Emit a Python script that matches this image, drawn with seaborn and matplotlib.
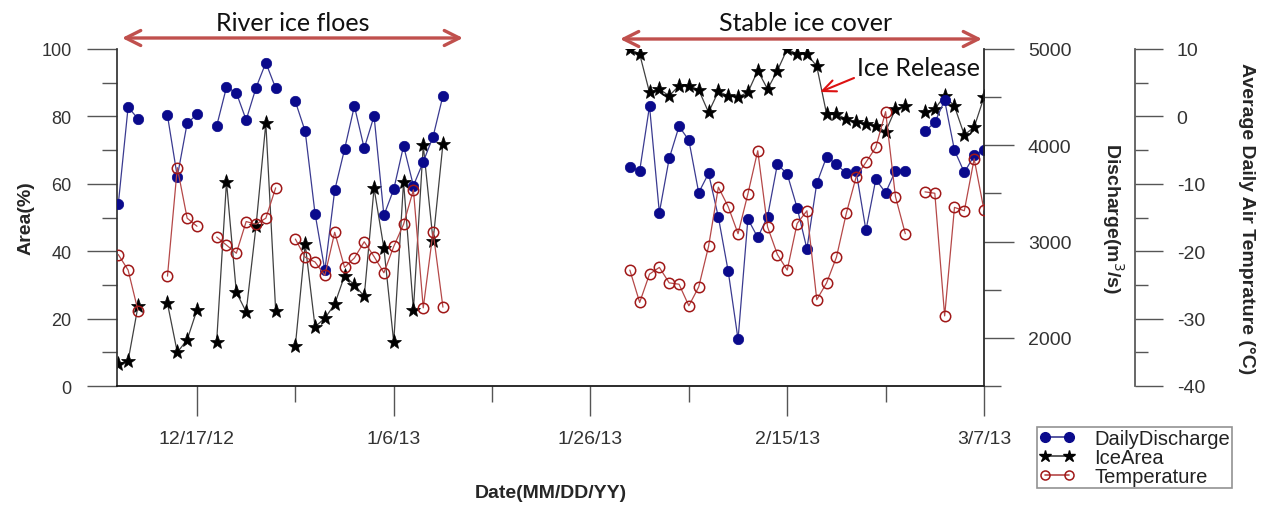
import matplotlib
matplotlib.use("Agg")
import matplotlib.pyplot as plt
import matplotlib.dates as mdates
import matplotlib.ticker as mticker
from matplotlib.lines import Line2D
import pandas as pd
import seaborn as sns

# ---------------- data ----------------
dates = [
    "2012-12-09", "2012-12-10", "2012-12-11",
    "2012-12-14", "2012-12-15", "2012-12-16", "2012-12-17",
    "2012-12-19", "2012-12-20", "2012-12-21", "2012-12-22", "2012-12-23", "2012-12-24", "2012-12-25",
    "2012-12-27", "2012-12-28", "2012-12-29", "2012-12-30", "2012-12-31", "2013-01-01", "2013-01-02",
    "2013-01-03", "2013-01-04", "2013-01-05", "2013-01-06", "2013-01-07", "2013-01-08", "2013-01-09",
    "2013-01-10", "2013-01-11",
    "2013-01-30", "2013-01-31", "2013-02-01", "2013-02-02", "2013-02-03", "2013-02-04", "2013-02-05",
    "2013-02-06", "2013-02-07", "2013-02-08", "2013-02-09", "2013-02-10", "2013-02-11", "2013-02-12",
    "2013-02-13", "2013-02-14", "2013-02-15", "2013-02-16", "2013-02-17", "2013-02-18", "2013-02-19",
    "2013-02-20", "2013-02-21", "2013-02-22", "2013-02-23", "2013-02-24", "2013-02-25", "2013-02-26",
    "2013-02-27",
    "2013-03-01", "2013-03-02", "2013-03-03", "2013-03-04", "2013-03-05", "2013-03-06", "2013-03-07",
]

discharge = [
    3387, 4397, 4276, 4310, 3673, 4228, 4321, 4200, 4604, 4545, 4263, 4597, 4858, 4593,
    4455, 4145, 3291, 2701, 3532, 3959, 4407, 3969, 4304, 3273, 3542, 3994, 3580, 3828, 4090, 4514,
    3776, 3735, 4407, 3301, 3863, 4197, 4052, 3508, 3708, 3253, 2691, 1984, 3235, 3043, 3260,
    3804, 3701, 3353, 2925, 3604, 3880, 3804, 3708, 3732, 3118, 3645, 3508, 3735, 3732,
    4145, 4238, 4466, 3948, 3718, 3894, 3948,
]

ice_area = [
    6.5, 7.5, 23.6, 24.5, 10.0, 13.7, 22.6, 13.2, 60.6, 27.8, 22.0, 47.4, 78.0, 22.3,
    12.0, 42.1, 17.6, 20.1, 24.3, 32.7, 30.0, 26.6, 58.7, 40.9, 13.0, 60.6, 22.6, 71.4, 43.1, 71.8,
    100.0, 98.5, 87.1, 88.1, 86.1, 89.1, 89.1, 87.9, 81.2, 87.4, 86.1, 85.8, 87.1, 93.6, 88.1,
    93.6, 100.0, 98.5, 98.5, 94.9, 80.7, 80.7, 79.2, 78.2, 77.7, 77.2, 75.5, 82.2, 83.0,
    81.2, 82.2, 86.1, 83.0, 74.5, 76.8, 85.7,
]

temperature = [
    -20.5, -22.8, -28.8, -23.7, -7.6, -15.1, -16.3, -17.9, -19.1, -20.3, -15.6, -16.0, -15.1, -10.6,
    -18.2, -20.9, -21.6, -23.6, -17.2, -22.4, -21.0, -18.6, -20.8, -23.2, -19.3, -16.0, -10.9, -28.4, -17.1, -28.3,
    -22.8, -27.6, -23.4, -22.4, -24.7, -24.9, -28.1, -25.3, -19.3, -10.5, -13.4, -17.4, -11.5, -5.1, -16.4,
    -20.5, -22.8, -15.9, -14.0, -27.2, -24.7, -20.9, -14.4, -9.0, -6.8, -4.6, 0.7, -11.9, -17.4,
    -11.2, -11.4, -29.6, -13.5, -14.0, -6.3, -13.9,
]

tick_dates = ["2012-12-17", "2013-01-06", "2013-01-26", "2013-02-15", "2013-03-07"]
minor_dates = ["2012-12-27", "2013-01-16", "2013-02-05", "2013-02-25"]

# ---------------- styling ----------------
sns.set_theme(style="ticks")
plt.rcParams["font.family"] = ["Liberation Sans", "DejaVu Sans"]
plt.rcParams["axes.unicode_minus"] = False

df = pd.DataFrame({
    "date": pd.to_datetime(dates),
    "discharge": discharge,
    "ice_area": ice_area,
    "temperature": temperature,
})
df["seg"] = (df["date"].diff() > pd.Timedelta(days=1)).cumsum()

W, H = 1265, 506
fig = plt.figure(figsize=(W / 100, H / 100), dpi=100)
ax = fig.add_axes([117 / W, 1 - 387 / H, (984 - 117) / W, (387 - 50) / H])
ax2 = ax.twinx()
ax3 = ax.twinx()

c_dis, c_dis_line = "#0A0A8C", "#3A3A90"
c_ice, c_ice_line = "#000000", "#404040"
c_tmp, c_tmp_line = "#A01818", "#B54848"

sns.lineplot(data=df, x="date", y="ice_area", units="seg", estimator=None, ax=ax,
             color=c_ice_line, lw=0.9, marker="*", ms=11, mfc=c_ice, mec=c_ice,
             mew=0.5, legend=False)
sns.lineplot(data=df, x="date", y="discharge", units="seg", estimator=None, ax=ax2,
             color=c_dis_line, lw=0.9, marker="o", ms=7.5, mfc=c_dis, mec=c_dis,
             mew=0.5, legend=False)
sns.lineplot(data=df, x="date", y="temperature", units="seg", estimator=None, ax=ax3,
             color=c_tmp_line, lw=0.9, marker="o", ms=7.5, mfc="none", mec=c_tmp,
             mew=1.1, legend=False)

# x axis
x0 = pd.Timestamp("2012-12-17") - pd.Timedelta(days=8.13)
x1 = pd.Timestamp("2013-03-07")
ax.set_xlim(x0, x1)
ax.xaxis.set_major_locator(mticker.FixedLocator(mdates.date2num(pd.to_datetime(tick_dates))))
ax.xaxis.set_minor_locator(mticker.FixedLocator(mdates.date2num(pd.to_datetime(minor_dates))))
ax.xaxis.set_major_formatter(mticker.FuncFormatter(
    lambda v, p: (lambda d: f"{d.month}/{d.day}/{d.strftime('%y')}")(mdates.num2date(v))))

tick_col = "#555555"
lab_col = "#333333"
ax.tick_params(axis="x", which="major", length=21.6, width=1, color=tick_col, pad=10,
               labelsize=14, labelcolor=lab_col)
ax.tick_params(axis="x", which="minor", length=11.5, width=1, color=tick_col)
ax.set_xlabel("Date(MM/DD/YY)", fontsize=14, fontweight="bold", labelpad=27)

# left axis (Area)
ax.set_ylim(0, 100)
ax.yaxis.set_major_locator(mticker.MultipleLocator(20))
ax.yaxis.set_minor_locator(mticker.MultipleLocator(10))
ax.tick_params(axis="y", which="major", length=21.6, width=1, color=tick_col, pad=11,
               labelsize=13, labelcolor=lab_col)
ax.tick_params(axis="y", which="minor", length=10.8, width=1, color=tick_col)
ax.set_ylabel("Area(%)", fontsize=14, fontweight="bold", labelpad=5)

# discharge axis
ax2.set_ylim(1500, 5000)
ax2.yaxis.set_major_locator(mticker.FixedLocator([2000, 3000, 4000, 5000]))
ax2.yaxis.set_minor_locator(mticker.FixedLocator([1500, 2500, 3500, 4500]))
ax2.tick_params(axis="y", which="major", length=21.6, width=1, color=tick_col, pad=10,
                labelsize=14, labelcolor=lab_col)
ax2.tick_params(axis="y", which="minor", length=12, width=1, color=tick_col)
ax2.set_ylabel("Discharge(m$^3$/s)", fontsize=14, fontweight="bold", rotation=270,
               labelpad=39)

# temperature axis
ax3.spines["right"].set_position(("axes", (1135 - 117) / (984 - 117)))
ax3.set_ylim(-40, 10)
ax3.yaxis.set_major_locator(mticker.MultipleLocator(10))
ax3.yaxis.set_minor_locator(mticker.MultipleLocator(5))
ax3.tick_params(axis="y", which="major", length=20, width=1, color=tick_col, pad=10,
                labelsize=14, labelcolor=lab_col)
ax3.tick_params(axis="y", which="minor", length=9.5, width=1, color=tick_col)
ax3.set_ylabel("Average Daily Air Temprature (°C)", fontsize=14, fontweight="bold",
               rotation=270, labelpad=36)

for a in (ax, ax2, ax3):
    a.set_facecolor("none")
    a.spines["top"].set_visible(False)
ax.spines["right"].set_visible(False)
ax.spines["left"].set_color("#333333")
ax.spines["bottom"].set_color("#111111")
for a in (ax2, ax3):
    a.spines["left"].set_visible(False)
    a.spines["bottom"].set_visible(False)
    a.spines["right"].set_color("#555555")
ax2.spines["right"].set_color("#222222")
ax.grid(False); ax2.grid(False); ax3.grid(False)

# legend
handles = [
    Line2D([], [], color=c_dis_line, lw=1.2, marker="o", ms=7, mfc=c_dis, mec=c_dis),
    Line2D([], [], color=c_ice_line, lw=1.2, marker="*", ms=9, mfc=c_ice, mec=c_ice),
    Line2D([], [], color=c_tmp_line, lw=1.2, marker="o", ms=6.5, mfc="none", mec=c_tmp, mew=1.1),
]
leg = fig.legend(handles, ["DailyDischarge", "IceArea", "Temperature"],
                 loc="upper left", bbox_to_anchor=(1037 / W, 1 - 428 / H),
                 numpoints=2, fontsize=14.5, frameon=True, fancybox=False,
                 borderpad=0.1, labelspacing=0.0, handlelength=1.8, handletextpad=0.95,
                 borderaxespad=0)
leg.get_frame().set_edgecolor("#777777")
leg.get_frame().set_linewidth(1.2)
for t in leg.get_texts():
    t.set_color("#222222")

# annotations
arrow_col = "#C0504D"
ann_font = ["Lato", "DejaVu Sans"]
fig.text(293 / W, 1 - 24 / H, "River ice floes", ha="center", va="center",
         fontsize=18, family=ann_font, color="#111111")
fig.text(806 / W, 1 - 24 / H, "Stable ice cover", ha="center", va="center",
         fontsize=18, family=ann_font, color="#111111")
fig.text(857 / W, 1 - 68 / H, "Ice Release", ha="left", va="center",
         fontsize=18, family=ann_font, color="#111111")
ap = dict(arrowstyle="<->,head_length=0.9,head_width=0.45", color=arrow_col, lw=2.4,
          shrinkA=0, shrinkB=0)
ax.annotate("", xy=(463 / W, 1 - 39 / H), xytext=(122 / W, 1 - 39 / H),
            xycoords="figure fraction", textcoords="figure fraction", arrowprops=ap)
ax.annotate("", xy=(982 / W, 1 - 40 / H), xytext=(620 / W, 1 - 40 / H),
            xycoords="figure fraction", textcoords="figure fraction", arrowprops=ap)
ax.annotate("", xy=(820 / W, 1 - 93 / H), xytext=(854 / W, 1 - 79 / H),
            xycoords="figure fraction", textcoords="figure fraction",
            arrowprops=dict(arrowstyle="->,head_length=0.8,head_width=0.35", color="#DD1111",
                            lw=1.5, shrinkA=0, shrinkB=0))

fig.savefig("out.png", dpi=100)
